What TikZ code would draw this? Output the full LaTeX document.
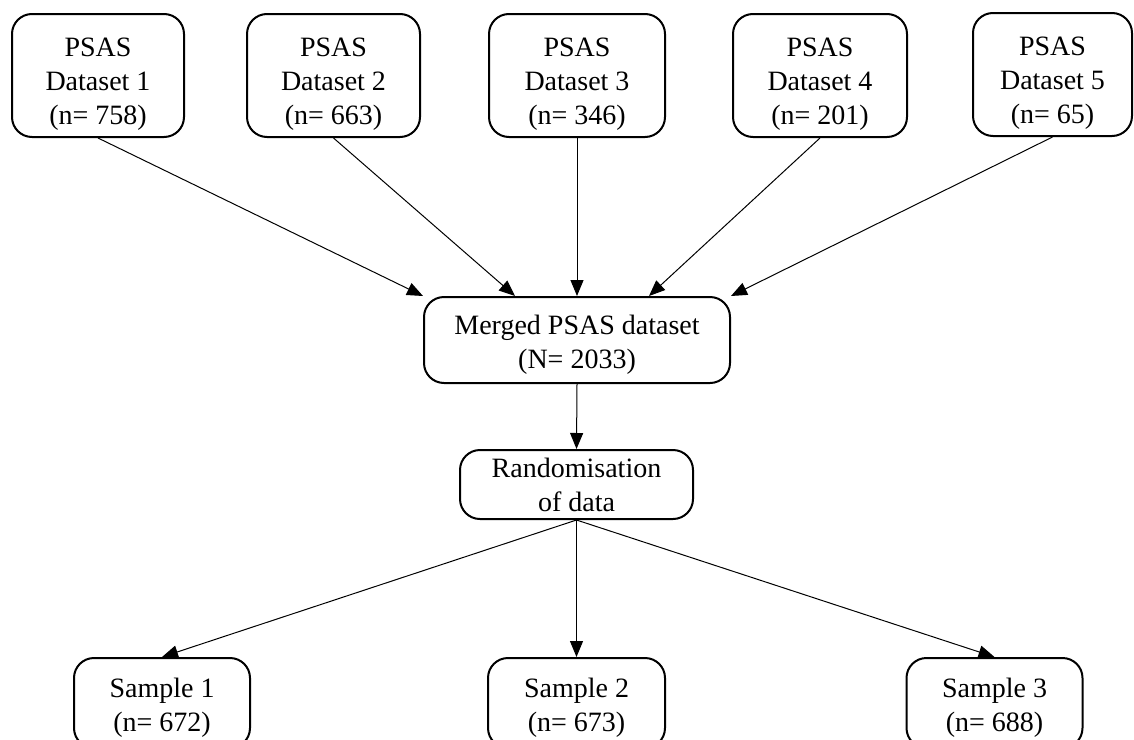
\documentclass[tikz,border=0pt]{standalone}
\usepackage{fontspec}
\setmainfont{Liberation Serif}
\usetikzlibrary{arrows.meta, positioning}

\newcommand{\topgap}[1]{\rule{0pt}{#1}}

\tikzset{
    flowbox/.style={draw, rounded corners=10pt, line width=1pt, align=center, inner sep=0pt, font=\fontsize{14}{17}\selectfont},
    flowarrow/.style={-{Triangle[length=8pt,width=6.5pt]}, line width=0.5pt}
}

\begin{document}
\begin{tikzpicture}[x=0.5pt, y=-0.5pt]
    \useasboundingbox (0,0) rectangle (1134,739);

    % Source datasets
    \node[flowbox, minimum width=86pt, minimum height=61.5pt] (ds1) at (98,75.5) {\topgap{18pt}PSAS\\Dataset 1\\(n= 758)};
    \node[flowbox, minimum width=86.5pt, minimum height=61.5pt] (ds2) at (333.5,75.5) {\topgap{18pt}PSAS\\Dataset 2\\(n= 663)};
    \node[flowbox, minimum width=88pt, minimum height=61.5pt] (ds3) at (577,75.5) {\topgap{18pt}PSAS\\Dataset 3\\(n= 346)};
    \node[flowbox, minimum width=87pt, minimum height=61.5pt] (ds4) at (820,75.5) {\topgap{18pt}PSAS\\Dataset 4\\(n= 201)};
    \node[flowbox, minimum width=79.5pt, minimum height=61.5pt] (ds5) at (1052.5,74.5) {\topgap{18pt}PSAS\\Dataset 5\\(n= 65)};

    % Merged and randomised data
    \node[flowbox, minimum width=153pt, minimum height=43pt] (merged) at (577,340) {\topgap{14pt}Merged PSAS dataset\\(N= 2033)};
    \node[flowbox, minimum width=116.5pt, minimum height=34.5pt] (random) at (576.5,484.5) {Randomisation\\of data};

    % Samples
    \node[flowbox, minimum width=88pt, minimum height=45pt] (smp1) at (162,703) {\topgap{14pt}Sample 1\\(n= 672)};
    \node[flowbox, minimum width=88.5pt, minimum height=45pt] (smp2) at (576.5,703) {\topgap{14pt}Sample 2\\(n= 673)};
    \node[flowbox, minimum width=88pt, minimum height=45pt] (smp3) at (994.5,703) {\topgap{14pt}Sample 3\\(n= 688)};

    % Arrows
    \draw[flowarrow] (ds1.south) -- (merged.north west);
    \draw[flowarrow] (ds2.south) -- ([xshift=-31pt]merged.north);
    \draw[flowarrow] (ds3.south) -- (merged.north);
    \draw[flowarrow] (ds4.south) -- ([xshift=36pt]merged.north);
    \draw[flowarrow] (ds5.south) -- (merged.north east);
    \draw[flowarrow] (merged.south) -- (random.north);
    \foreach \s in {smp1,smp2,smp3}
        \draw[flowarrow] (random.south) -- (\s.north);
\end{tikzpicture}
\end{document}
